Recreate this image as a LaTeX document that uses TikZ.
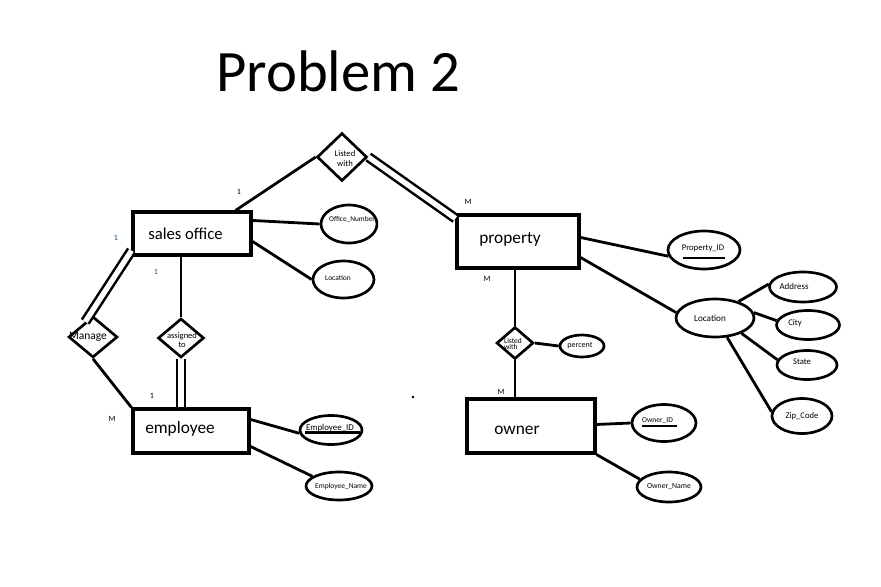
\documentclass[tikz,border=0pt]{standalone}
\usepackage{fontspec}
\setmainfont{Carlito}
\usetikzlibrary{shapes.geometric,calc}
\definecolor{cardblue}{HTML}{1F4E79}
\begin{document}
\begin{tikzpicture}[x=0.75pt,y=-0.75pt,
 ent/.style={draw,line width=2.3pt,rectangle,inner sep=0pt},
 att/.style={draw,ellipse,line width=2pt,inner sep=0pt},
 rel/.style={draw,diamond,line width=2pt,inner sep=0pt},
 ln/.style={line width=2.1pt},
 dbl/.style={line width=1.9pt,double,double distance=4pt},
 card/.style={font=\fontsize{6}{7}\selectfont,inner sep=0pt},
 etxt/.style={inner sep=0pt,font=\fontsize{13}{15}\selectfont},
 atxt/.style={inner sep=0pt,font=\fontsize{#1}{#1}\selectfont},
 rtxt/.style={inner sep=0pt,align=center,font=\fontsize{#1}{#1}\selectfont}
]
\fill[white] (0,0) rectangle (881,586);
\useasboundingbox (0,0) rectangle (881,586);

% title
\node[inner sep=0pt,anchor=base west,font=\fontsize{44}{50}\selectfont] (title) at (216,91) {Problem 2};

% entities
\node[ent,minimum width=88.5pt,minimum height=32.25pt] (so) at (192,233.5) {};
\node[etxt,font=\fontsize{12.5}{14}\selectfont] (sot) at (185.5,234) {sales office};
\node[ent,minimum width=91.5pt,minimum height=39.75pt] (prop) at (518,241.5) {};
\node[etxt] (propt) at (510,239) {property};
\node[ent,minimum width=87pt,minimum height=33pt] (emp) at (191,431) {};
\node[etxt] (empt) at (180,429) {employee};
\node[ent,minimum width=96pt,minimum height=40.5pt] (own) at (531,426) {};
\node[etxt] (ownt) at (517,430) {owner};

% relationships
\node[rel,minimum width=37.5pt,minimum height=36pt] (lw) at (342,157) {};
\node[rtxt=6.5] (lwt) at (345,158.5) {Listed\\[1pt]with};
\node[rel,minimum width=36.75pt,minimum height=30.75pt] (mg) at (93,337) {};
\node[atxt=8.6] (mgt) at (88,337) {Manage};
\node[rel,minimum width=34.5pt,minimum height=29.25pt] (at) at (181,338) {};
\node[rtxt=6.4] (att) at (182,340) {assigned\\[0.5pt]to};
\node[rel,minimum width=27.75pt,minimum height=24pt] (lw2) at (515,343) {};
\node[inner sep=0pt,align=left,font=\fontsize{5.6}{4.6}\selectfont] (lw2t) at (513,344) {Listed\\with};

% attributes
\node[att,minimum width=42pt,minimum height=28.5pt] (on) at (349,224) {};
\node[atxt=5.5] (ont) at (352,219) {Office\_Number};
\node[att,minimum width=45.75pt,minimum height=27.75pt] (sl) at (343.5,279.5) {};
\node[atxt=5.6] (slt) at (338,278) {Location};
\node[att,minimum width=54pt,minimum height=28.5pt] (pid) at (704,250) {};
\node[atxt=6.5] (pidt) at (703,248) {Property\_ID};
\node[att,minimum width=58.5pt,minimum height=28.5pt] (ploc) at (715,318) {};
\node[atxt=6.9] (ploct) at (710,318) {Location};
\node[att,minimum width=50.25pt,minimum height=22.5pt] (addr) at (803,287) {};
\node[atxt=6.7] (addrt) at (794,286.5) {Address};
\node[att,minimum width=47.25pt,minimum height=21.75pt] (city) at (808,325) {};
\node[atxt=6.5] (cityt) at (795,323.5) {City};
\node[att,minimum width=45pt,minimum height=21.75pt] (state) at (807,365) {};
\node[atxt=6.5] (statet) at (802,361.5) {State};
\node[att,minimum width=45pt,minimum height=26.25pt] (zip) at (802,416) {};
\node[atxt=6.5] (zipt) at (802,416) {Zip\_Code};
\node[att,minimum width=33pt,minimum height=16.5pt] (pc) at (582,346) {};
\node[atxt=6] (pct) at (580,345.5) {percent};
\node[att,minimum width=48pt,minimum height=27.75pt] (oid) at (664,423) {};
\node[atxt=5.6] (oidt) at (657.5,421) {Owner\_ID};
\node[att,minimum width=48pt,minimum height=22.5pt] (oname) at (669,487) {};
\node[atxt=5.8] (onamet) at (669,487) {Owner\_Name};
\node[att,minimum width=46.5pt,minimum height=21.75pt] (eid) at (331,430) {};
\node[atxt=6.7] (eidt) at (330,428) {Employee\_ID};
\node[att,minimum width=49.5pt,minimum height=21pt] (ename) at (339,486) {};
\node[atxt=5.6] (enamet) at (341,486) {Employee\_Name};

% key underlines
\draw[line width=1.6pt] (683,258) -- (725,258);
\draw[line width=1.6pt] (642,426) -- (677,426);
\draw[line width=1.6pt] (305,432.5) -- (360,432.5);

% connectors
\draw[ln] ($(so.north west)+(104,0)$) -- (lw.west);
\draw[dbl] (lw.east) -- ($(prop.north west)+(0,5)$);
\draw[ln] ($(so.north east)+(0,10)$) -- (on.west);
\draw[ln] ($(so.north east)+(0,31)$) -- (sl.west);
\draw[dbl] ($(so.south west)+(0,-6)$) -- ($(mg.north)!0.3!(mg.west)$);
\draw[ln] (mg.south) -- (emp.north west);
\draw[ln] (at.north |- so.south) -- (at.north);
\draw[dbl] (at.south) -- (at.south |- emp.north);
\draw[ln] (lw2.north |- prop.south) -- (lw2.north);
\draw[ln] (lw2.south) -- (lw2.south |- own.north);
\draw[ln] (lw2.east) -- (pc.west);
\draw[ln] ($(prop.north east)+(0,24)$) -- (pid.190);
\draw[ln] ($(prop.north east)+(0,44)$) -- (ploc.172);
\draw[ln] (ploc.35) -- (addr.175);
\draw[ln] (ploc.8) -- (city.172);
\draw[ln] (ploc.-30) -- (state.170);
\draw[ln] (ploc.-58) -- (zip.172);
\draw[ln] ($(own.north east)+(0,27)$) -- (oid.west);
\draw[ln] (own.south east) -- (oname.165);
\draw[ln] ($(emp.north east)+(0,12)$) -- (eid.186);
\draw[ln] ($(emp.north east)+(0,39)$) -- (ename.160);

% cardinalities
\node[card] (c1) at (239,192) {1};
\node[card] (c2) at (468,202) {M};
\node[card,text=cardblue] (c3) at (116,238) {1};
\node[card,text=cardblue] (c4) at (156,272) {1};
\node[card] (c5) at (152,396) {1};
\node[card] (c6) at (112,419) {M};
\node[card] (c7) at (487,279) {M};
\node[card] (c8) at (501,392) {M};

% stray mark
\fill (413,397) circle (1.1pt);
\end{tikzpicture}
\end{document}
